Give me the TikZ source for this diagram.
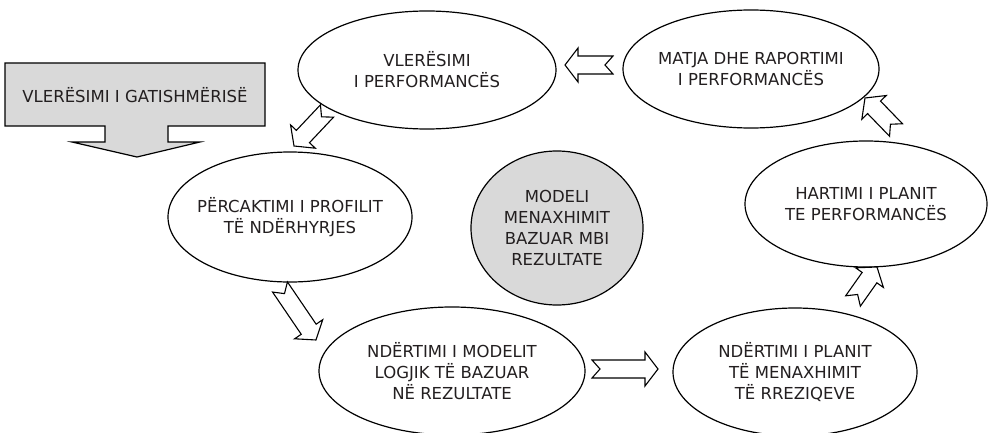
\documentclass[tikz,border=0pt]{standalone}
\usepackage{fontspec}
\setmainfont{DejaVu Sans}
\usetikzlibrary{calc,shapes.geometric}
\definecolor{panelgray}{RGB}{217,217,217}
\definecolor{ink}{RGB}{35,31,32}

% hollow block arrow with a notched tail, drawn from #1 (tail) to #2 (tip)
\newcommand\hollowarrow[2]{%
  \draw[arrowline] let \p1=($(#2)-(#1)$), \n1={atan2(\y1,\x1)}, \n2={veclen(\x1,\y1)} in
    [shift={(#1)}, rotate=\n1]
    (0pt,9pt) -- ({(\n2-13)*1pt},9pt) -- ({(\n2-13)*1pt},17pt) -- ({\n2*1pt},0pt)
    -- ({(\n2-13)*1pt},-17pt) -- ({(\n2-13)*1pt},-9pt) -- (0pt,-9pt) -- (8pt,0pt) -- cycle;}

\begin{document}
\begin{tikzpicture}[x=1pt,y=-1pt,
  stage/.style={draw=black, line width=1.2pt, ellipse, fill=white, inner sep=0pt},
  stagetext/.style={align=center, text=ink, inner sep=0pt, font=\fontsize{16.5}{21}\selectfont},
  arrowline/.style={draw=black, line width=1.1pt, fill=white, line join=miter},
  blockline/.style={draw=black, line width=1.2pt, fill=panelgray}]
\useasboundingbox (0,0) rectangle (1000,433);

% stages of the cycle
\node[stage, minimum width=258pt, minimum height=118pt] (eval) at (427,70) {};
\node[stage, minimum width=256pt, minimum height=118pt] (measure) at (751,69) {};
\node[stage, minimum width=242pt, minimum height=126pt] (plan) at (866,204) {};
\node[stage, minimum width=244pt, minimum height=128pt] (risk) at (795,372) {};
\node[stage, minimum width=266pt, minimum height=128pt] (logic) at (452,371) {};
\node[stage, minimum width=244pt, minimum height=130pt] (profile) at (290,217) {};
\node[stage, fill=panelgray, minimum width=172pt, minimum height=154pt] (core) at (557,228) {};

\node[stagetext] (evalT) at (eval) {VLERËSIMI\\I PERFORMANCËS};
\node[stagetext] (measureT) at (measure) {MATJA DHE RAPORTIMI\\I PERFORMANCËS};
\node[stagetext] (planT) at (plan) {HARTIMI I PLANIT\\TE PERFORMANCËS};
\node[stagetext] (riskT) at (risk) {NDËRTIMI I PLANIT\\TË MENAXHIMIT\\TË RREZIQEVE};
\node[stagetext] (logicT) at (logic) {NDËRTIMI I MODELIT\\LOGJIK TË BAZUAR\\NË REZULTATE};
\node[stagetext] (profileT) at (profile) {PËRCAKTIMI I PROFILIT\\TË NDËRHYRJES};
\node[stagetext] (coreT) at (core) {MODELI\\MENAXHIMIT\\BAZUAR MBI\\REZULTATE};

% readiness assessment: grey box with a downward arrow
\path[blockline] (5,63) -- (265,63) -- (265,126) -- (168,126) -- (168,142) -- (200,142)
  -- (137,157) -- (72,142) -- (105,142) -- (105,126) -- (5,126) -- cycle;
\node[stagetext] (ready) at (135,95) {VLERËSIMI I GATISHMËRISË};

% connectors between the stages
\coordinate (a1s) at (613,65);  \coordinate (a1e) at (565,65);
\coordinate (a2s) at (327,111); \coordinate (a2e) at (294,146);
\coordinate (a3s) at (280,287); \coordinate (a3e) at (316,340);
\coordinate (a4s) at (592,369); \coordinate (a4e) at (658,369);
\coordinate (a5s) at (853,301); \coordinate (a5e) at (877,267);
\coordinate (a6s) at (896,130); \coordinate (a6e) at (865,98);

\hollowarrow{a1s}{a1e}
\hollowarrow{a2s}{a2e}
\hollowarrow{a3s}{a3e}
\hollowarrow{a4s}{a4e}
\hollowarrow{a5s}{a5e}
\hollowarrow{a6s}{a6e}
\end{tikzpicture}
\end{document}
